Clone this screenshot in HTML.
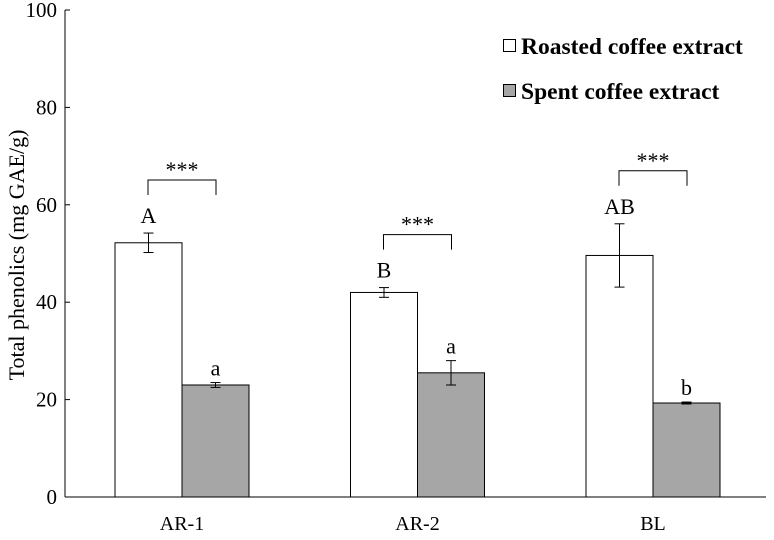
<!DOCTYPE html>
<html><head><meta charset="utf-8"><style>
body{margin:0;background:#fff}
svg text{font-family:"Liberation Serif",serif;fill:#000}
</style></head><body>
<svg width="774" height="535" id="c">
</svg>
<script>
const categories=["AR-1","AR-2","BL"];
const roasted=[52.2,42.0,49.6];
const roastedErr=[2.0,1.0,6.5];
const spent=[23.0,25.5,19.3];
const spentErr=[0.5,2.5,0.2];
const roastedLetters=["A","B","AB"];
const spentLetters=["a","a","b"];
const sigLabels=["***","***","***"];
const yTicks=[0,20,40,60,80,100];
const NS="http://www.w3.org/2000/svg";
const svg=document.getElementById('c');
const y0=497,y1=10,ymax=100;
const Y=v=>y0-(v/ymax)*(y0-y1);
const X=i=>182+i*235.5;
const bw=67;
function mk(tag,attrs,txt){const e=document.createElementNS(NS,tag);for(const k in attrs)e.setAttribute(k,attrs[k]);if(txt!==undefined)e.textContent=txt;svg.appendChild(e);return e;}
let e;
e=mk('line',{x1:65,y1:y0,x2:766,y2:y0,stroke:'#000','stroke-width':1});


e=mk('line',{x1:65,y1:y1,x2:65,y2:y0,stroke:'#000','stroke-width':1});


yTicks.forEach(t=>{
 e=mk('line',{x1:65,y1:Y(t),x2:70,y2:Y(t),stroke:'#000'});
 
 
 e=mk('text',{x:57,y:Y(t)+7,'text-anchor':'end','font-size':21},t);
 
 
});
e=mk('text',{x:0,y:0,'font-size':22,'text-anchor':'middle',transform:'translate(24,255) rotate(-90)'},'Total phenolics (mg GAE/g)');


function errbar(cx,v,er){
 const g=mk('g',{stroke:'#000','stroke-width':1});
 
 
 [[cx,Y(v+er),cx,Y(v-er)],[cx-5,Y(v+er),cx+5,Y(v+er)],[cx-5,Y(v-er),cx+5,Y(v-er)]].forEach(a=>{const l=document.createElementNS(NS,'line');l.setAttribute('x1',a[0]);l.setAttribute('y1',a[1]);l.setAttribute('x2',a[2]);l.setAttribute('y2',a[3]);g.appendChild(l);});
}
categories.forEach((c,i)=>{
 const cx=X(i);
 e=mk('rect',{x:cx-bw,y:Y(roasted[i]),width:bw,height:y0-Y(roasted[i]),fill:'#fff',stroke:'#000'});
 
 
 e=mk('rect',{x:cx,y:Y(spent[i]),width:bw,height:y0-Y(spent[i]),fill:'#a6a6a6',stroke:'#000'});
 
 
 errbar(cx-bw/2,roasted[i],roastedErr[i]);
 errbar(cx+bw/2,spent[i],spentErr[i]);
 e=mk('text',{x:cx-bw/2,y:Y(roasted[i]+roastedErr[i])-10,'text-anchor':'middle','font-size':22},roastedLetters[i]);
 
 
 e=mk('text',{x:cx+bw/2,y:Y(spent[i]+spentErr[i])-7,'text-anchor':'middle','font-size':22},spentLetters[i]);
 
 
 const by=Y(roasted[i]+roastedErr[i])-53;
 e=mk('path',{d:`M${cx-34},${by+15}V${by}H${cx+34}V${by+15}`,fill:'none',stroke:'#000'});
 
 
 e=mk('text',{x:cx,y:by-3,'text-anchor':'middle','font-size':22},sigLabels[i]);
 
 
 e=mk('text',{x:cx,y:530,'text-anchor':'middle','font-size':20},c);
 
 
});
e=mk('rect',{x:503.5,y:39.5,width:12,height:12,fill:'#fff',stroke:'#000'});


e=mk('text',{x:521,y:54,'font-size':23.5,'font-weight':'bold'},'Roasted coffee extract');


e=mk('rect',{x:503.5,y:84.5,width:12,height:12,fill:'#a6a6a6',stroke:'#000'});


e=mk('text',{x:521,y:99,'font-size':23.5,'font-weight':'bold'},'Spent coffee extract');


</script>
</body></html>
